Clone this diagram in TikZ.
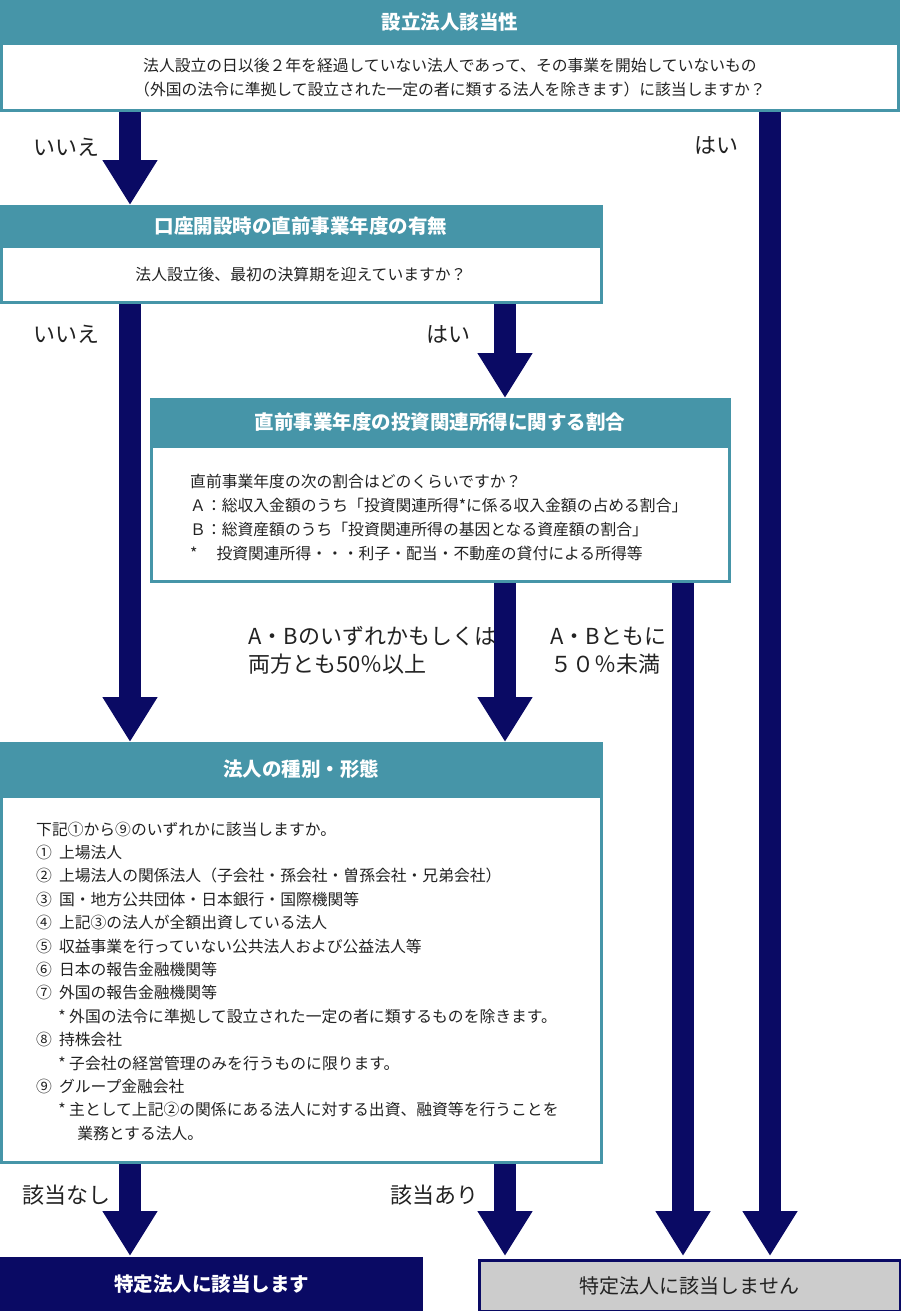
\documentclass[tikz,border=0pt]{standalone}
\usepackage{fontspec}
\setmainfont{Noto Sans CJK JP}
\usetikzlibrary{arrows.meta}
\definecolor{teal1}{HTML}{4695A8}
\definecolor{navy1}{HTML}{0A0A64}
\definecolor{gray1}{HTML}{CCCCCC}
\definecolor{txt}{HTML}{222222}
\begin{document}
\begin{tikzpicture}[x=1pt,y=-1pt,
  hdr/.style={fill=teal1},
  bodybox/.style={draw=teal1,line width=3pt,fill=white},
  htext/.style={text=white,font=\fontsize{19.5}{22}\selectfont\bfseries},
  btext/.style={text=txt,font=\fontsize{15.8}{18}\selectfont,inner sep=0pt},
  lbl/.style={text=txt,font=\fontsize{22}{25}\selectfont,inner sep=0pt},
  bigarrow/.style={draw=navy1,line width=22pt,-{Triangle[length=45pt,width=52pt]},shorten >=0pt}]
\useasboundingbox (0,0) rectangle (900,1311);
% box 1
\fill[hdr] (0,0) rectangle (900,44);
\draw[bodybox] (1.5,44) rectangle (898.5,110.5);
\node[htext] (h1) at (450,22) {設立法人該当性};
\node[btext] (b1a) at (450,65) {法人設立の日以後２年を経過していない法人であって、その事業を開始していないもの};
\node[btext] (b1b) at (450,89) {（外国の法令に準拠して設立された一定の者に類する法人を除きます）に該当しますか？};
% box 2
\fill[hdr] (0,205) rectangle (603,246);
\draw[bodybox] (1.5,246) rectangle (601.5,302.5);
\node[htext] (h2) at (301,226) {口座開設時の直前事業年度の有無};
\node[btext] (b2) at (301,274) {法人設立後、最初の決算期を迎えていますか？};
% box 3
\fill[hdr] (150,398) rectangle (731,446);
\draw[bodybox] (151.5,446) rectangle (729.5,581.5);
\node[htext] (h3) at (440,422) {直前事業年度の投資関連所得に関する割合};
\node[btext,anchor=west] (b3a) at (190,481) {直前事業年度の次の割合はどのくらいですか？};
\node[btext,anchor=west] (b3b) at (190,505) {Ａ：総収入金額のうち「投資関連所得*に係る収入金額の占める割合」};
\node[btext,anchor=west] (b3c) at (190,529) {Ｂ：総資産額のうち「投資関連所得の基因となる資産額の割合」};
\node[btext,anchor=west] (b3d) at (190,553) {*\hspace{1.2em}投資関連所得・・・利子・配当・不動産の貸付による所得等};
% box 4
\fill[hdr] (0,742) rectangle (603,796);
\draw[bodybox] (1.5,796) rectangle (601.5,1162.5);
\node[htext] (h4) at (301,769) {法人の種別・形態};
\foreach \t [count=\i] in {
 {下記①から⑨のいずれかに該当しますか。},
 {①\ \ 上場法人},
 {②\ \ 上場法人の関係法人（子会社・孫会社・曽孫会社・兄弟会社）},
 {③\ \ 国・地方公共団体・日本銀行・国際機関等},
 {④\ \ 上記③の法人が全額出資している法人},
 {⑤\ \ 収益事業を行っていない公共法人および公益法人等},
 {⑥\ \ 日本の報告金融機関等},
 {⑦\ \ 外国の報告金融機関等},
 {\hspace{1.4em}*\ 外国の法令に準拠して設立された一定の者に類するものを除きます。},
 {⑧\ \ 持株会社},
 {\hspace{1.4em}*\ 子会社の経営管理のみを行うものに限ります。},
 {⑨\ \ グループ金融会社},
 {\hspace{1.4em}*\ 主として上記②の関係にある法人に対する出資、融資等を行うことを},
 {\hspace{2.6em}業務とする法人。}}
 { \node[btext,anchor=west] (l\i) at (36,{829+(\i-1)*23.4}) {\t}; }
% targets
\node[fill=navy1,minimum width=423pt,minimum height=54pt,inner sep=0pt,anchor=north west,text=white,font=\fontsize{19.5}{22}\selectfont\bfseries] (t1) at (0,1257) {特定法人に該当します};
\node[fill=gray1,draw=navy1,line width=3pt,minimum width=421pt,minimum height=51pt,inner sep=0pt,anchor=north west,text=txt,font=\fontsize{20}{22}\selectfont] (t2) at (477.5,1258.5) {特定法人に該当しません};
% arrows
\coordinate (a1s) at (130,112); \coordinate (a1e) at (130,205);
\coordinate (a2s) at (770,112); \coordinate (a2e) at (770,1256);
\coordinate (a3s) at (130,304); \coordinate (a3e) at (130,742);
\coordinate (a4s) at (505,304); \coordinate (a4e) at (505,398);
\coordinate (a5s) at (505,583); \coordinate (a5e) at (505,742);
\coordinate (a6s) at (683,583); \coordinate (a6e) at (683,1256);
\coordinate (a7s) at (130,1164); \coordinate (a7e) at (130,1256);
\coordinate (a8s) at (505,1164); \coordinate (a8e) at (505,1256);
\foreach \k in {1,...,8} { \draw[bigarrow] (a\k s) -- (a\k e); }
% labels
\node[lbl] at (66,147) {いいえ};
\node[lbl] at (716,145) {はい};
\node[lbl] at (66,334) {いいえ};
\node[lbl] at (448,334) {はい};
\node[lbl,anchor=west] at (248,636) {A・Bのいずれかもしくは};
\node[lbl,anchor=west] at (248,664) {両方とも50％以上};
\node[lbl,anchor=west] at (550,636) {A・Bともに};
\node[lbl,anchor=west] at (550,664) {５０％未満};
\node[lbl] at (66,1195) {該当なし};
\node[lbl] at (434,1195) {該当あり};
\end{tikzpicture}
\end{document}
